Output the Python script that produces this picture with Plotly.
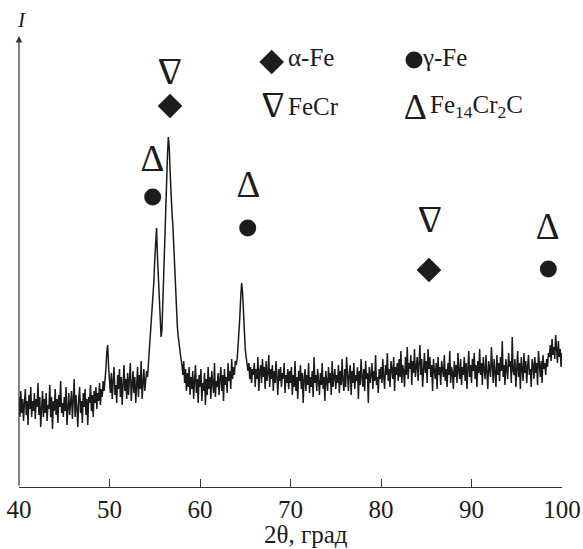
import numpy as np
import plotly.graph_objects as go

# 2-theta grid (degrees), step 0.1
two_theta = np.round(np.arange(40.0, 100.0001, 0.1), 1)

intensity = [
    90, 70, 96, 74, 88, 66, 84, 98, 72, 86,
    62, 92, 78, 100, 70, 86, 76, 94, 68, 88,
    80, 104, 72, 90, 60, 84, 96, 70, 88, 74,
    94, 66, 82, 78, 102, 70, 90, 58, 86, 76,
    98, 72, 88, 64, 92, 80, 106, 74, 84, 70,
    90, 76, 100, 62, 86, 94, 72, 82, 96, 68,
    84, 108, 70, 92, 78, 60, 88, 100, 74, 86,
    64, 94, 80, 98, 72, 88, 62, 90, 84, 102,
    76, 92, 70, 96, 84, 100, 78, 94, 86, 104,
    82, 98, 90, 106, 96, 105, 118, 135, 142, 120,
    108, 94, 114, 88, 106, 120, 92, 102, 84, 112,
    98, 118, 90, 110, 82, 104, 122, 96, 108, 88,
    114, 92, 106, 124, 86, 100, 116, 94, 110, 84,
    104, 120, 90, 112, 98, 126, 88, 108, 118, 96,
    105, 116, 110, 124, 134, 150, 170, 180, 187, 205,
    227, 245, 259, 230, 207, 180, 165, 150, 158, 190,
    220, 250, 280, 305, 330, 350, 340, 315, 290, 275,
    262, 240, 218, 200, 180, 160, 150, 140, 132, 128,
    122, 112, 126, 104, 118, 96, 114, 100, 120, 92,
    110, 98, 116, 88, 106, 122, 94, 108, 84, 112,
    100, 118, 86, 104, 96, 114, 82, 108, 92, 120,
    98, 110, 88, 116, 104, 94, 124, 90, 106, 100,
    114, 92, 108, 120, 96, 112, 86, 118, 102, 110,
    94, 124, 106, 116, 98, 128, 108, 120, 112, 126,
    122, 128, 140, 152, 170, 190, 204, 195, 170, 150,
    138, 130, 122, 116, 124, 108, 120, 104, 118, 112,
    124, 100, 118, 108, 130, 96, 116, 122, 104, 128,
    110, 120, 98, 126, 106, 114, 132, 100, 118, 108,
    122, 96, 116, 104, 126, 110, 92, 118, 106, 120,
    100, 114, 108, 124, 94, 112, 104, 118, 98, 116,
    104, 120, 92, 112, 100, 126, 96, 110, 88, 116,
    106, 122, 98, 114, 84, 108, 118, 96, 112, 102,
    124, 94, 110, 100, 116, 90, 130, 104, 112, 96,
    118, 106, 92, 114, 102, 124, 98, 110, 86, 116,
    108, 96, 120, 104, 114, 92, 126, 100, 110, 118,
    98, 112, 104, 122, 94, 116, 102, 128, 106, 96,
    118, 100, 130, 108, 96, 114, 122, 92, 116, 104,
    124, 98, 112, 106, 120, 88, 116, 102, 128, 110,
    100, 118, 96, 126, 108, 114, 84, 120, 104, 112,
    124, 98, 116, 106, 132, 102, 110, 94, 118, 108,
    120, 104, 128, 110, 98, 122, 112, 134, 106, 118,
    100, 126, 114, 108, 130, 96, 120, 112, 124, 106,
    128, 110, 136, 104, 122, 116, 100, 130, 112, 140,
    108, 124, 118, 132, 102, 126, 114, 138, 110, 120,
    130, 106, 124, 142, 112, 128, 100, 120, 134, 114,
    126, 104, 138, 118, 130, 110, 122, 96, 128, 116,
    108, 124, 98, 130, 112, 120, 102, 126, 116, 110,
    132, 106, 118, 100, 124, 112, 136, 104, 120, 114,
    98, 126, 110, 122, 104, 134, 116, 108, 128, 102,
    120, 112, 130, 106, 124, 98, 118, 136, 110, 122,
    104, 128, 116, 134, 108, 122, 100, 126, 114, 138,
    112, 124, 102, 130, 118, 108, 132, 116, 98, 126,
    120, 110, 140, 114, 104, 128, 118, 100, 132, 112,
    124, 106, 130, 116, 146, 110, 122, 102, 128, 118,
    108, 134, 120, 126, 104, 150, 116, 112, 128, 100,
    122, 136, 110, 124, 98, 130, 118, 106, 134, 114,
    126, 104, 120, 132, 112, 118, 100, 128, 122, 108,
    130, 114, 124, 102, 136, 116, 110, 126, 104, 132,
    118, 124, 112, 128, 120, 134, 130, 142, 126, 148,
    132, 140, 128, 152, 136, 124, 146, 130, 138, 120,
    134,
]

# Phase markers above peaks (2theta, height)
alpha_fe_x = [56.69, 85.30]
alpha_fe_y = [381, 217]
gamma_fe_x = [54.77, 65.27, 98.49]
gamma_fe_y = [290, 259, 218]
fecr_x = [56.69, 85.41]
fecr_y = [415, 267]
carbide_x = [54.73, 65.34, 98.42]
carbide_y = [325, 299, 257]

# Legend key
legend_labels = ["α-Fe", "γ-Fe", "FeCr", "Fe<sub>14</sub>Cr<sub>2</sub>C"]
legend_text_x = [69.55, 84.31, 69.55, 85.23]
legend_text_y = [429.5, 429.5, 380.5, 380.5]
legend_diamond = ([67.92], [425])
legend_circle = ([83.65], [427])
legend_nabla = ([68.10], [382])
legend_delta = ([83.8], [377])

x_ticks = [40, 50, 60, 70, 80, 90, 100]
x_title = "2θ, град"
y_title = "I"

FONT = "Liberation Serif, Times New Roman, serif"
INK = "#1c1c1c"

fig = go.Figure()
fig.add_trace(go.Scatter(x=two_theta, y=intensity, mode="lines",
                         line=dict(color="#1a1a1a", width=1.5), hoverinfo="skip"))

def markers(xs, ys, symbol, size):
    fig.add_trace(go.Scatter(x=xs, y=ys, mode="markers",
                             marker=dict(symbol=symbol, size=size, color=INK,
                                         line=dict(width=0))))

def deltas(xs, ys, size):
    fig.add_trace(go.Scatter(x=xs, y=ys, mode="text", text=["Δ"] * len(xs),
                             textposition="middle center",
                             textfont=dict(family=FONT, size=size, color=INK)))

def nablas(xs, ys, size):
    for xx, yy in zip(xs, ys):
        fig.add_annotation(x=xx, y=yy, text="Δ", textangle=180, showarrow=False,
                           xanchor="center", yanchor="middle",
                           font=dict(family=FONT, size=size, color=INK))

markers(alpha_fe_x, alpha_fe_y, "diamond", 19)
markers(gamma_fe_x, gamma_fe_y, "circle", 17)
nablas(fecr_x, fecr_y, 38)
deltas(carbide_x, carbide_y, 37)

markers(*legend_diamond, "diamond", 19)
markers(*legend_circle, "circle", 17)
nablas(*legend_nabla, 36)
deltas(*legend_delta, 36)

for tx, ty, lab in zip(legend_text_x, legend_text_y, legend_labels):
    fig.add_annotation(x=tx, y=ty, text=lab, showarrow=False, xanchor="left",
                       yanchor="middle", font=dict(family=FONT, size=25, color=INK))

# y axis with arrow
fig.add_annotation(x=40, y=451, ax=40, ay=0, xref="x", yref="y", axref="x", ayref="y",
                   showarrow=True, arrowhead=2, arrowsize=1.1, arrowwidth=1.2,
                   arrowcolor="#333333", text="")
fig.add_annotation(x=0.0037, y=1.034, xref="paper", yref="paper",
                   text="<i>%s</i>" % y_title, showarrow=False,
                   xanchor="center", yanchor="middle",
                   font=dict(family=FONT, size=21, color=INK))
fig.add_annotation(x=0.5285, y=-0.106, xref="paper", yref="paper", text=x_title,
                   showarrow=False, xanchor="center", yanchor="middle",
                   font=dict(family=FONT, size=25, color=INK))

fig.update_layout(
    width=583, height=549,
    margin=dict(l=19, r=21, t=35, b=62, autoexpand=False),
    paper_bgcolor="white", plot_bgcolor="white",
    showlegend=False,
    xaxis=dict(range=[40, 100], tickvals=x_ticks, ticktext=[str(t) for t in x_ticks],
               ticks="inside", ticklen=8, tickwidth=1.2, tickcolor="#333333",
               showline=True, linecolor="#333333", linewidth=1.2, showgrid=False,
               zeroline=False, automargin=False,
               tickfont=dict(family=FONT, size=25, color=INK)),
    yaxis=dict(range=[0, 452], showticklabels=False, ticks="", showgrid=False,
               zeroline=False, showline=False, automargin=False),
)

fig.write_html("out.html", config={"displayModeBar": False},
               post_script="document.body.style.margin='0px';")
